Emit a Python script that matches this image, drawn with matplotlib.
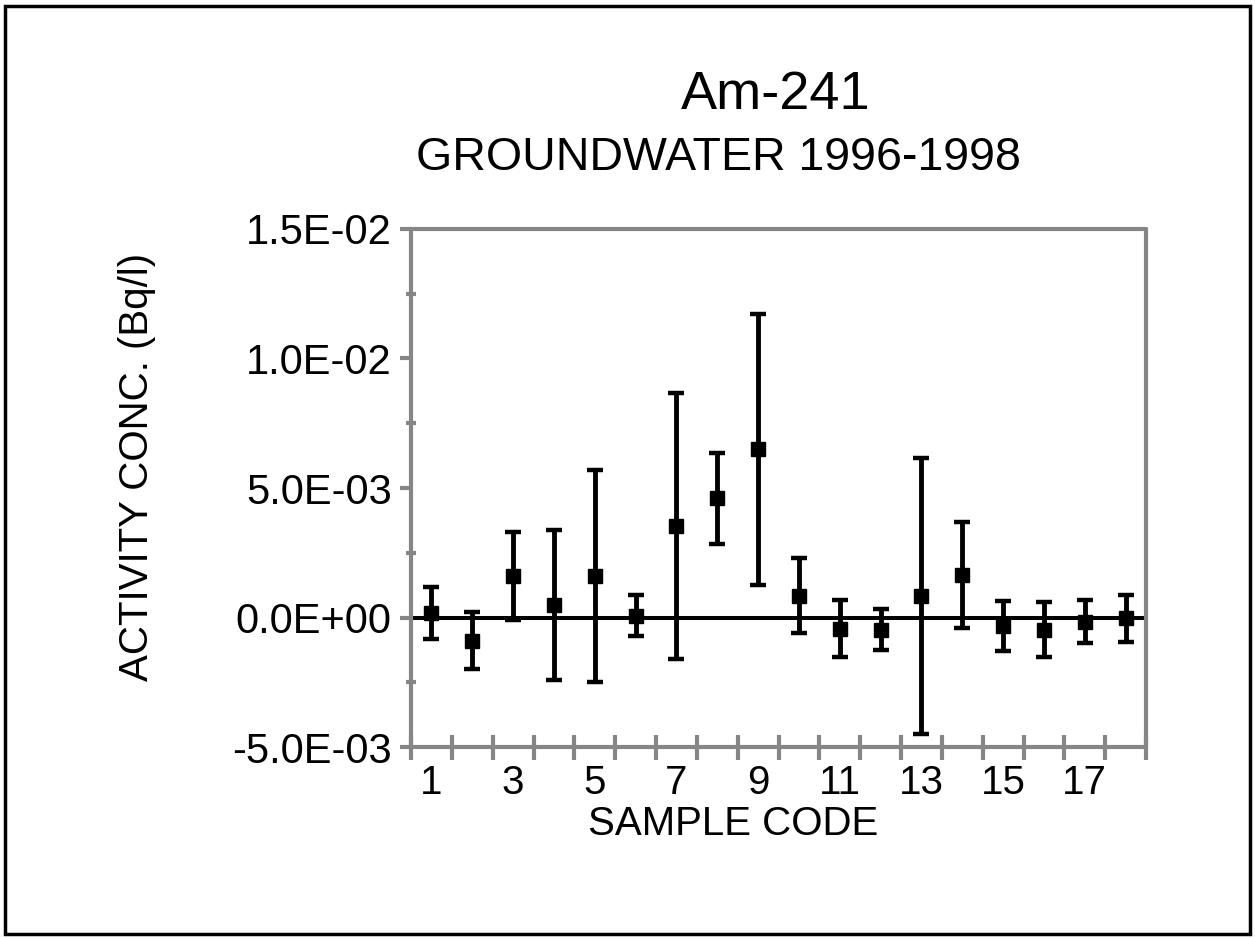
import numpy as np
import matplotlib
matplotlib.use('Agg')
import matplotlib.pyplot as plt
from matplotlib.ticker import FixedLocator, FuncFormatter
from matplotlib.patches import Rectangle

plt.rcParams['font.family'] = ['Liberation Sans', 'DejaVu Sans']

# Data (Bq/l)
sample_codes = np.arange(1, 19)
activity = np.array([0.16, -0.89, 1.60, 0.47, 1.60, 0.07, 3.53, 4.60, 6.49,
                     0.84, -0.43, -0.47, 0.84, 1.63, -0.33, -0.47, -0.17, -0.03]) * 1e-3
uncertainty = np.array([1.00, 1.11, 1.70, 2.89, 4.10, 0.79, 5.15, 1.75, 5.23,
                        1.45, 1.10, 0.80, 5.33, 2.05, 0.95, 1.05, 0.83, 0.90]) * 1e-3
x_labels = [1, 3, 5, 7, 9, 11, 13, 15, 17]
y_ticks = [-5e-3, 0.0, 5e-3, 1e-2, 1.5e-2]

W, H = 1255, 938
fig = plt.figure(figsize=(W / 100, H / 100), dpi=100)
ax = fig.add_axes([411 / W, 1 - 747 / H, (1146 - 411) / W, (747 - 229) / H])

grey = '#868686'

# Zero line
ax.axhline(0.0, color='black', lw=2.9, zorder=2)

# Error bars and markers
ax.errorbar(sample_codes, activity, yerr=uncertainty, fmt='s', color='black',
            ms=10.5, elinewidth=3.5, capsize=6, capthick=3.2, zorder=3)

ax.set_xlim(0.5, 18.5)
ax.set_ylim(-5e-3, 1.5e-2)

for s in ax.spines.values():
    s.set_color(grey)
    s.set_linewidth(3)
    s.set_capstyle('round')

# x axis: labels at odd codes, tick marks between categories
ax.xaxis.set_major_locator(FixedLocator(x_labels))
ax.xaxis.set_minor_locator(FixedLocator(np.arange(0.5, 19, 1.0)))
ax.tick_params(axis='x', which='major', length=0, pad=12, labelsize=29)
ax.tick_params(axis='x', which='minor', direction='inout', length=18, width=3, color=grey)

# y axis
ax.yaxis.set_major_locator(FixedLocator(y_ticks))
ax.yaxis.set_minor_locator(FixedLocator(np.arange(-5e-3, 1.51e-2, 2.5e-3)))
ax.yaxis.set_major_formatter(FuncFormatter(lambda v, p: f'{v:.1E}'))
ax.tick_params(axis='y', which='major', direction='out', length=8, width=3, color=grey,
               pad=6, labelsize=30)
ax.tick_params(axis='y', which='minor', direction='inout', length=7, width=3, color=grey)

ax.set_xlabel('SAMPLE CODE', fontsize=29)
ax.xaxis.set_label_coords((733 - 411) / (1146 - 411), (747 - 805) / (747 - 229))
ax.set_ylabel('ACTIVITY CONC. (Bq/l)', fontsize=29)
ax.yaxis.set_label_coords((156 - 411) / (1146 - 411), (747 - 467) / (747 - 229))

fig.text(776 / W, 1 - 95 / H, 'Am-241', fontsize=39, ha='center', va='center')
fig.text(718 / W, 1 - 158 / H, 'GROUNDWATER 1996-1998', fontsize=33.5, ha='center', va='center')

# Outer frame
fig.patches.append(Rectangle((5 / W, 4 / H), (1250 - 5) / W, (932 - 4) / H,
                             transform=fig.transFigure, fill=False, ec='black', lw=2.5))

fig.savefig('out.png', dpi=100)
